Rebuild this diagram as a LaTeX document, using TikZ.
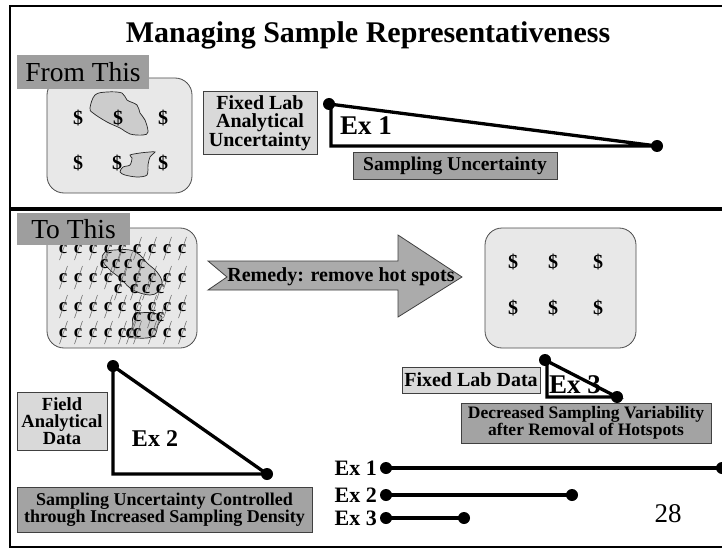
\documentclass[tikz,border=0pt]{standalone}
\usepackage{fontspec}
\setmainfont{Liberation Serif}
\newcommand{\fsz}[2]{\fontsize{#1}{#2}\selectfont}
% a bold cent mark: the letter c crossed by a long thin slanted stroke
\newcommand{\centmark}[3]{%
  \node[centc] (#1) at (#2,#3) {c};
  \draw[centslash] (#2,#3) ++(4.5,-16) -- ++(-8,23);}
\begin{document}
\begin{tikzpicture}[x=1pt,y=-1pt,
  field/.style={draw=black!70, fill=black!9, line width=0.8pt, rounded corners=17pt},
  hotspot/.style={draw=black!85, fill=black!20, line width=0.7pt},
  tagbox/.style={fill=black!38, inner sep=0pt, font=\fsz{27.5}{29}},
  lightbox/.style={draw=black!75, fill=black!15, line width=0.8pt, inner sep=0pt,
    align=center, font=\bfseries\fsz{20}{18.5}},
  darkbox/.style={draw=black!75, fill=black!36, line width=0.8pt, inner sep=0pt,
    align=center, font=\bfseries\fsz{18}{17}},
  money/.style={font=\bfseries\fsz{20}{21}, inner sep=0pt},
  centc/.style={font=\bfseries\fsz{19}{20}, inner sep=0pt, anchor=base},
  centslash/.style={draw=black!55, line width=0.6pt},
  exlabel/.style={font=\bfseries\fsz{24}{26}, inner sep=0pt},
  dot/.style={circle, fill=black, inner sep=0pt, minimum size=12pt},
  leg/.style={line width=3.3pt},
]
\clip (0,0) rectangle (722,548);
\fill[white] (0,0) rectangle (722,548);

% outer frame and section divider
\draw[line width=2pt] (10,6) rectangle (740,546.5);
\draw[line width=4pt] (10,209) -- (740,209);

% title
\node[anchor=base, inner sep=0pt, font=\bfseries\fsz{30}{32}] (title) at (368,43)
  {Managing Sample Representativeness};

% ---------- upper section ----------
\draw[field] (47,78) rectangle (192,193);
\draw[hotspot] plot[smooth cycle, tension=0.6] coordinates {
  (90,108) (95,95) (107,92) (122,93) (127,100) (137,105) (140,113) (145,120)
  (148,132) (143,135) (130,134) (120,128) (107,122) (93,113)};
\draw[hotspot] plot[smooth cycle, tension=0.5] coordinates {
  (130,155) (140,153) (150,152) (155,152) (150,157) (148,165) (147,175)
  (137,177) (125,175) (120,172) (123,167) (130,165) (132,158)};
\foreach \x/\y [count=\i] in {78/118,118/118,163/118,78/163,117/163,163/163}
  \node[money] (d\i) at (\x,\y) {\$};
\node[tagbox, minimum width=132pt, minimum height=34pt] (fromtag) at (83,72) {From This};

\node[lightbox, minimum width=114pt, minimum height=63pt] (fixedlab) at (260,123)
  {Fixed Lab\\Analytical\\Uncertainty};
\node[darkbox, minimum width=204pt, minimum height=27pt, font=\bfseries\fsz{19.5}{20}]
  (samplunc) at (455,165.5) {Sampling Uncertainty};

\node[dot] (e1a) at (329,104) {};
\node[dot] (e1c) at (657,146) {};
\coordinate (e1b) at (331,146);
\draw[leg, line join=miter] (e1a.center) -- (e1c.center) -- (e1b) -- (331,108);
\node[exlabel, font=\bfseries\fsz{27}{28}] (ex1) at (366,126) {Ex 1};

% ---------- lower section ----------
\draw[field] (47,228) rectangle (197,348);
\draw[hotspot] plot[smooth cycle, tension=0.6] coordinates {
  (102,260) (105,252) (115,250) (130,250) (140,255) (147,263) (157,272)
  (162,282) (158,292) (150,295) (140,293) (130,288) (120,278) (110,270)};
\draw[hotspot] plot[smooth cycle, tension=0.6] coordinates {
  (133,317) (140,313) (153,313) (162,317) (158,325) (155,335) (147,338)
  (137,338) (128,337) (127,332) (132,328)};
\foreach \y [count=\r] in {253,282,311,337}
  \foreach \x [count=\c] in {63,78,93,108,122,137,152,167,182}
    {\centmark{c\r-\c}{\x}{\y}}
\foreach \x/\y [count=\i] in {104/268,116/268,128/268,141/268,
    118/293,134/293,146/293,160/293, 137/321,151/321,160/321, 130/337}
  {\centmark{h\i}{\x}{\y}}
\node[tagbox, minimum width=113pt, minimum height=32pt] (totag) at (73.5,229) {To This};

% remedy arrow
\draw[draw=black!75, fill=black!33, line width=0.8pt]
  (208,261) -- (398,261) -- (398,235) -- (462,277) -- (398,317) -- (398,290)
  -- (208,290) -- (227,277) -- cycle;
\node[inner sep=0pt, font=\bfseries\fsz{20}{22}] (remedy) at (341,277)
  {Remedy: remove hot spots};

\draw[field] (485,228) rectangle (636,348);
\foreach \x/\y [count=\i] in {513/262,553/262,598/262,513/308,553/308,598/308}
  \node[money] (m\i) at (\x,\y) {\$};

% Ex 2 triangle
\node[lightbox, minimum width=90pt, minimum height=58pt, font=\bfseries\fsz{18.5}{17}]
  (fielddata) at (62,421) {Field\\Analytical\\Data};
\node[dot] (e2a) at (113,366) {};
\node[dot] (e2c) at (267,474) {};
\coordinate (e2b) at (113,474);
\draw[leg, line join=miter] (e2a.center) -- (e2c.center) -- (e2b) -- cycle;
\node[exlabel] (ex2) at (155,439) {Ex 2};
\node[darkbox, minimum width=295pt, minimum height=45pt] (controlled) at (164.5,509.5)
  {Sampling Uncertainty Controlled\\through Increased Sampling Density};

% Ex 3 triangle
\node[lightbox, minimum width=138pt, minimum height=26pt] (labdata) at (471,380)
  {Fixed Lab Data};
\node[dot] (e3a) at (545,360) {};
\node[dot] (e3c) at (617,397) {};
\coordinate (e3b) at (547,397);
\draw[leg, line join=miter] (e3a.center) -- (e3c.center) -- (e3b) -- (547,363);
\node[exlabel, font=\bfseries\fsz{27}{28}] (ex3) at (575,385) {Ex 3};
\node[darkbox, minimum width=250pt, minimum height=40pt, font=\bfseries\fsz{17.5}{15.5}]
  (decreased) at (586,423) {Decreased Sampling Variability\\after Removal of Hotspots};

% comparison bars
\foreach \n/\y/\xe/\w in {1/468/722/4.5, 2/495/572/3.5, 3/518/464/3.2} {
  \node[exlabel, font=\bfseries\fsz{22}{24}, anchor=east] (bl\n) at (377,\y) {Ex \n};
  \node[dot] (bs\n) at (386,\y) {};
  \node[dot] (be\n) at (\xe,\y) {};
  \draw[line width=\w pt] (bs\n.center) -- (be\n.center);
}
\node[inner sep=0pt, font=\fsz{27}{28}] (page) at (668,514) {28};
\end{tikzpicture}
\end{document}
